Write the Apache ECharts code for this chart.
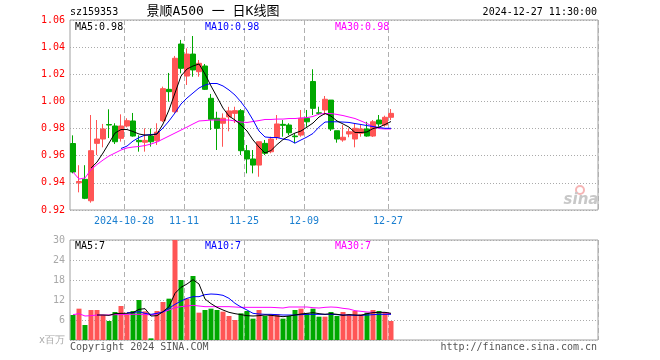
<!DOCTYPE html>
<html><head><meta charset="utf-8">
<script src="https://cdn.jsdelivr.net/npm/echarts/dist/echarts.min.js"></script>
<style>html,body{margin:0;padding:0;background:#fff}#c{width:660px;height:360px}</style>
</head><body><div id="c"></div>
<script>
// ---- data ----
const categories = ['2024-10-15','2024-10-16','2024-10-17','2024-10-18','2024-10-21','2024-10-22','2024-10-23','2024-10-24','2024-10-25','2024-10-28','2024-10-29','2024-10-30','2024-10-31',
'2024-11-01','2024-11-04','2024-11-05','2024-11-06','2024-11-07','2024-11-08','2024-11-11','2024-11-12','2024-11-13','2024-11-14','2024-11-15','2024-11-18','2024-11-19','2024-11-20','2024-11-21','2024-11-22','2024-11-25','2024-11-26','2024-11-27','2024-11-28','2024-11-29',
'2024-12-02','2024-12-03','2024-12-04','2024-12-05','2024-12-06','2024-12-09','2024-12-10','2024-12-11','2024-12-12','2024-12-13','2024-12-16','2024-12-17','2024-12-18','2024-12-19','2024-12-20','2024-12-23','2024-12-24','2024-12-25','2024-12-26','2024-12-27'];
const tickLabels = ['2024-10-28','11-11','11-25','12-09','12-27'];
const openP  = [0.969,0.940,0.9426,0.9268,0.9691,0.9723,0.9830,0.9819,0.9728,0.9819,0.9856,0.9713,0.9699,0.9745,0.971,0.9858,1.0089,0.9924,1.0423,1.0187,1.0349,1.0219,1.0261,1.0023,0.9876,0.9839,0.9886,0.9912,0.9932,0.9637,0.9576,0.9531,0.9691,0.9629,0.9733,0.9831,0.9826,0.9745,0.9752,0.9876,1.0147,0.9916,0.9937,1.001,0.9784,0.9716,0.976,0.9723,0.9765,0.9797,0.9745,0.9863,0.9826,0.9883];
const closeP = [0.948,0.941,0.9286,0.9637,0.9723,0.9797,0.9826,0.9703,0.9819,0.9858,0.9745,0.9703,0.9713,0.9703,0.9774,1.0094,1.0072,1.0318,1.0244,1.0349,1.0232,1.0281,1.0089,0.9868,0.9802,0.9876,0.9930,0.9932,0.9637,0.9576,0.9531,0.9703,0.9618,0.9723,0.9834,0.9824,0.9769,0.974,0.9876,0.985,0.9949,0.9912,1.0016,0.9797,0.9723,0.9736,0.9777,0.9802,0.9797,0.9745,0.985,0.9834,0.9883,0.9912];
const lowP   = [0.947,0.933,0.928,0.9254,0.9605,0.9662,0.973,0.9686,0.9704,0.9809,0.974,0.963,0.963,0.9667,0.9679,0.9848,0.9998,0.9915,1.0207,1.0121,1.0182,1.0182,1.0084,0.979,0.9642,0.9666,0.978,0.9841,0.9605,0.947,0.947,0.9445,0.9605,0.9618,0.9716,0.974,0.9752,0.9691,0.974,0.9813,0.99,0.99,0.99,0.9782,0.9696,0.9703,0.9736,0.9662,0.974,0.974,0.9738,0.9814,0.9814,0.9863];
const highP  = [0.975,0.953,0.953,0.990,0.9863,0.9834,0.9942,0.9839,0.9905,0.9876,0.9915,0.975,0.9802,0.980,0.9839,1.0109,1.021,1.0335,1.0453,1.0391,1.0482,1.0305,1.0276,1.0055,0.9924,0.9912,0.996,0.9961,0.9944,0.9679,0.9642,0.9703,0.9716,0.974,0.99,0.9863,0.9839,0.9765,0.9937,0.9937,1.0237,0.9961,1.004,1.001,0.9784,0.9826,0.9802,0.9839,0.9826,0.985,0.9863,0.99,0.9895,0.9944];
const priceMA5  = [null,null,null,0.9509,0.9553,0.9620,0.9693,0.9767,0.9793,0.9793,0.9778,0.9760,0.9752,0.9752,0.9760,0.9834,0.9937,1.0062,1.0187,1.0239,1.0261,1.0276,1.0202,1.0114,1.0033,0.9951,0.9892,0.9863,0.9826,0.9782,0.9716,0.9664,0.9620,0.9638,0.9682,0.9719,0.9745,0.9767,0.9782,0.9811,0.9841,0.9885,0.9911,0.9892,0.9856,0.9834,0.9811,0.9771,0.9771,0.9775,0.9800,0.9811,0.9830,0.9852];
const priceMA10 = [null,null,null,null,null,null,null,null,0.9653,0.9671,0.9708,0.9734,0.9752,0.9756,0.9760,0.9804,0.9856,0.9915,0.9981,1.0025,1.0062,1.0099,1.0121,1.0132,1.0132,1.0114,1.0084,1.0047,0.9996,0.9937,0.9863,0.9782,0.9738,0.9734,0.9734,0.9723,0.9716,0.9693,0.9716,0.9738,0.9764,0.9811,0.9848,0.9850,0.9850,0.9848,0.9845,0.9837,0.9830,0.9822,0.9815,0.9808,0.9802,0.9802];
const priceMA30 = [0.948,0.9428,0.9436,0.9498,0.9535,0.9568,0.9598,0.9620,0.9642,0.9657,0.9664,0.9668,0.9675,0.9686,0.9701,0.9723,0.9745,0.9767,0.9789,0.9811,0.9834,0.9856,0.9859,0.9863,0.9863,0.9863,0.9863,0.9856,0.9848,0.9845,0.9852,0.9859,0.9867,0.9867,0.9870,0.9870,0.9874,0.9874,0.9878,0.9881,0.9889,0.9907,0.9911,0.9911,0.9904,0.9896,0.9885,0.9874,0.9856,0.9837,0.9815,0.9800,0.9797,0.9797];
const volume = [7.5,9.4,4.5,9.0,9.0,7.5,5.7,8.4,10.2,7.6,8.7,12.0,8.6,0.5,8.7,11.4,12.4,30,18.0,12.4,19.2,8.2,9.0,9.4,9.0,8.5,7.2,6.0,8.0,8.7,6.4,9.0,7.2,7.7,7.7,6.4,7.2,9.0,9.4,8.0,9.4,7.0,7.0,8.4,7.2,8.4,7.7,8.7,7.7,8.2,9.0,8.7,8.4,5.7];
const volMA5  = [null,null,null,null,7.5,7.5,7.4,7.9,8.0,8.0,8.2,9.2,9.4,7.2,7.3,8.5,10.0,14.0,15.8,16.8,18.1,16.8,12.3,10.9,9.8,9.0,8.3,7.9,7.6,7.3,7.2,7.3,7.5,7.4,7.2,7.0,7.2,7.5,7.8,8.0,8.2,7.9,7.7,7.9,7.7,7.4,7.6,7.5,7.4,7.9,8.2,8.3,8.3,8.0];
const volMA10 = [null,null,null,null,null,null,null,null,null,8.2,8.2,8.5,8.0,7.7,8.0,8.4,9.5,10.7,11.7,12.5,13.0,13.0,13.6,13.8,13.7,13.4,12.5,11.0,9.9,9.0,8.0,7.8,7.7,7.7,7.6,7.5,7.5,7.5,7.6,7.7,7.7,7.7,7.7,7.7,7.6,7.5,7.5,7.4,7.4,7.5,7.6,7.7,7.7,7.7];
const volMA30 = [7.6,7.9,7.2,7.3,7.5,7.5,7.5,7.6,7.6,7.7,7.7,7.7,7.7,7.5,7.9,8.4,9.0,9.7,10.0,10.2,10.4,10.2,10.0,10.0,10.0,10.0,10.0,9.9,9.8,9.8,9.8,9.8,9.8,9.8,9.7,9.6,9.9,9.9,9.9,9.9,9.7,9.6,9.8,9.9,9.8,9.5,9.3,8.8,8.6,8.4,8.3,8.2,8.2,7.8];

// ---- build ----
const SLOTS = 88;
const xData = categories.slice();
for (let i = categories.length; i < SLOTS; i++) xData.push('pad' + i);
const labelOf = {};
categories.forEach(d => { const t = tickLabels.find(t => t === d || t === d.slice(5)); if (t) labelOf[d] = t; });
const showTick = (idx, val) => labelOf[val] !== undefined;

const RED = '#ff5555', GREEN = '#00a800';
const kData = categories.map((d, i) => [openP[i], closeP[i], lowP[i], highP[i]]);
const volData = volume.map((v, i) => ({ value: v, itemStyle: { color: closeP[i] >= openP[i] ? RED : GREEN } }));

const MONO = '"DejaVu Sans Mono", "Liberation Mono", monospace';
const gridLine = { show: true, lineStyle: { color: '#aaaaaa', type: [1, 2], width: 1 } };
const vLine = { show: true, interval: showTick, lineStyle: { color: '#b0b0b0', type: [5, 3], width: 1 } };

function xAxisFor(gi, labels) {
  return {
    type: 'category', gridIndex: gi, data: xData, boundaryGap: true,
    axisLine: { show: false }, axisTick: { show: false },
    axisLabel: labels ? {
      show: true, interval: showTick, color: '#1a7fd0', fontFamily: MONO, fontSize: 10, margin: 6,
      formatter: v => labelOf[v] || '', padding: [0, 6, 0, 0]
    } : { show: false },
    splitLine: vLine
  };
}
function line(name, data, color, xi, yi) {
  return { name, type: 'line', data, xAxisIndex: xi, yAxisIndex: yi, symbol: 'none', smooth: false,
    lineStyle: { color, width: 1 }, itemStyle: { color }, z: 5, silent: true, connectNulls: false };
}
function txt(text, x, y, fill, opts) {
  return Object.assign({ type: 'text', z: 100, style: { text, x, y, fill, font: '10px ' + MONO, textVerticalAlign: 'middle' } }, opts || {});
}

const chart = echarts.init(document.getElementById('c'), null, { renderer: 'canvas' });
chart.setOption({
  animation: false,
  backgroundColor: '#ffffff',
  grid: [
    { left: 70, top: 20, width: 528, height: 190, show: true, borderColor: '#a0a0a0', borderWidth: 1 },
    { left: 70, top: 240, width: 528, height: 100, show: true, borderColor: '#a0a0a0', borderWidth: 1 }
  ],
  xAxis: [xAxisFor(0, true), xAxisFor(1, false)],
  yAxis: [
    { type: 'value', gridIndex: 0, min: 0.92, max: 1.06, interval: 0.02, axisLine: { show: false }, axisTick: { show: false },
      axisLabel: { color: '#ff0000', fontFamily: MONO, fontSize: 10, margin: 5, formatter: v => v.toFixed(2) }, splitLine: gridLine },
    { type: 'value', gridIndex: 1, min: 0, max: 30, interval: 6, axisLine: { show: false }, axisTick: { show: false },
      axisLabel: { color: '#a8a8a8', fontFamily: MONO, fontSize: 10, margin: 5, formatter: v => v === 0 ? 'x百万' : String(v) }, splitLine: gridLine }
  ],
  series: [
    { type: 'candlestick', xAxisIndex: 0, yAxisIndex: 0, data: kData, barWidth: 5,
      itemStyle: { color: RED, color0: GREEN, borderColor: RED, borderColor0: GREEN, borderWidth: 1 } },
    line('MA30', priceMA30, '#ff00ff', 0, 0),
    line('MA10', priceMA10, '#0000ff', 0, 0),
    line('MA5', priceMA5, '#000000', 0, 0),
    { type: 'bar', xAxisIndex: 1, yAxisIndex: 1, data: volData, barWidth: 5 },
    line('VMA30', volMA30, '#ff00ff', 1, 1),
    line('VMA10', volMA10, '#0000ff', 1, 1),
    line('VMA5', volMA5, '#000000', 1, 1)
  ],
  graphic: [
    txt('sz159353', 70, 12, '#000'),
    { type: 'text', z: 100, style: { text: '景顺A500 一 日K线图', x: 213, y: 12, fill: '#000', font: '13px "DejaVu Sans Mono", "Noto Sans CJK SC"', textAlign: 'center', textVerticalAlign: 'middle' } },
    { type: 'text', z: 100, style: { text: '2024-12-27 11:30:00', x: 597, y: 12, fill: '#000', font: '10px ' + MONO, textAlign: 'right', textVerticalAlign: 'middle' } },
    txt('MA5:0.98', 75, 27, '#000'),
    txt('MA10:0.98', 205, 27, '#0000ff'),
    txt('MA30:0.98', 335, 27, '#ff00ff'),
    txt('MA5:7', 75, 246, '#000'),
    txt('MA10:7', 205, 246, '#0000ff'),
    txt('MA30:7', 335, 246, '#ff00ff'),
    txt('Copyright 2024 SINA.COM', 70, 347, '#555'),
    { type: 'text', z: 100, style: { text: 'http://finance.sina.com.cn', x: 597, y: 347, fill: '#555', font: '10px ' + MONO, textAlign: 'right', textVerticalAlign: 'middle' } },
    { type: 'circle', z: 50, shape: { cx: 580, cy: 190, r: 4 }, style: { fill: 'none', stroke: '#f5b5b5', lineWidth: 2 } },
    { type: 'text', z: 50, style: { text: 'sina', x: 581, y: 200, fill: '#c8c8c8', font: 'italic bold 15px "DejaVu Sans"', textAlign: 'center', textVerticalAlign: 'middle' } }
  ]
});
</script></body></html>
